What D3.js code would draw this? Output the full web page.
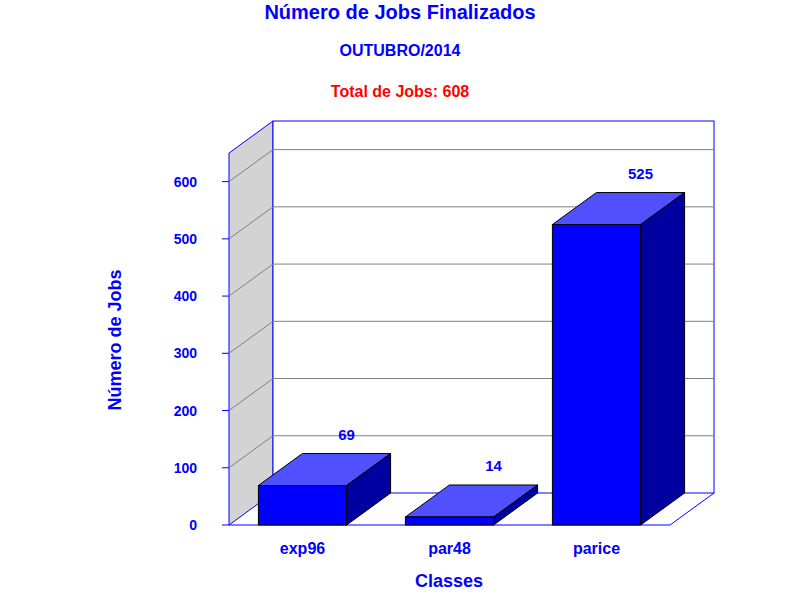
<!DOCTYPE html>
<html><head><meta charset="utf-8">
<script src="https://cdn.jsdelivr.net/npm/d3@7"></script>
<style>body{margin:0;background:#fff}text{font-family:"Liberation Sans",Arial,sans-serif;font-weight:bold}</style>
</head><body><svg id="c" width="800" height="600"></svg>
<script>
var classes = ["exp96", "par48", "parice"];
var jobs = [69, 14, 525];
var yTicks = [0, 100, 200, 300, 400, 500, 600];

var svg = d3.select("#c");
var x0 = 229, x1 = 670, yBase = 525, dx = 44, dy = -32;
var y = d3.scaleLinear().domain([0, 650]).range([yBase, yBase - 372]);
var x = d3.scaleBand().domain(classes).range([x0, x1]).paddingInner(0.4).paddingOuter(0.2);

// left wall
svg.append("polygon")
    .attr("points", [[x0, y(0)], [x0 + dx, y(0) + dy], [x0 + dx, y(650) + dy], [x0, y(650)]].join(" "))
    .attr("fill", "#d3d3d3").attr("stroke", "#0000ff");
// back wall
svg.append("rect").attr("x", x0 + dx).attr("y", y(650) + dy).attr("width", x1 - x0).attr("height", y(0) - y(650))
    .attr("fill", "#fff").attr("stroke", "#0000ff");
yTicks.slice(1).forEach(function (v) {
    svg.append("line").attr("x1", x0 + dx).attr("x2", x1 + dx).attr("y1", y(v) + dy).attr("y2", y(v) + dy).attr("stroke", "#808080");
    svg.append("line").attr("x1", x0).attr("x2", x0 + dx).attr("y1", y(v)).attr("y2", y(v) + dy).attr("stroke", "#808080");
});
// floor
svg.append("polyline")
    .attr("points", [[x0, yBase], [x1, yBase], [x1 + dx, yBase + dy]].join(" "))
    .attr("fill", "none").attr("stroke", "#0000ff");

// y axis ticks
yTicks.forEach(function (v) {
    svg.append("line").attr("x1", x0 - 7).attr("x2", x0).attr("y1", y(v)).attr("y2", y(v)).attr("stroke", "#0000ff");
    svg.append("text").attr("x", 197).attr("y", y(v) + 5).attr("text-anchor", "end")
        .attr("font-size", 14).attr("fill", "#0000ff").text(v);
});

// bars
classes.forEach(function (c, i) {
    var bx = x(c), bw = x.bandwidth(), top = y(jobs[i]);
    svg.append("polygon").attr("points", [[bx, top], [bx + dx, top + dy], [bx + bw + dx, top + dy], [bx + bw, top]].join(" "))
        .attr("fill", "#5050ff").attr("stroke", "#000");
    svg.append("polygon").attr("points", [[bx + bw, top], [bx + bw + dx, top + dy], [bx + bw + dx, yBase + dy], [bx + bw, yBase]].join(" "))
        .attr("fill", "#0000a0").attr("stroke", "#000");
    svg.append("rect").attr("x", bx).attr("y", top).attr("width", bw).attr("height", yBase - top)
        .attr("fill", "#0000ff").attr("stroke", "#000");
    svg.append("text").attr("x", bx + bw / 2 + dx).attr("y", top + dy - 14).attr("text-anchor", "middle")
        .attr("font-size", 15).attr("fill", "#0000ff").text(jobs[i]);
    svg.append("text").attr("x", bx + bw / 2).attr("y", 554).attr("text-anchor", "middle")
        .attr("font-size", 16).attr("fill", "#0000ff").text(c);
});

// titles
svg.append("text").attr("x", 400).attr("y", 19).attr("text-anchor", "middle").attr("font-size", 20).attr("fill", "#0000ff").text("Número de Jobs Finalizados");
svg.append("text").attr("x", 400).attr("y", 56).attr("text-anchor", "middle").attr("font-size", 16).attr("fill", "#0000ff").text("OUTUBRO/2014");
svg.append("text").attr("x", 400).attr("y", 97).attr("text-anchor", "middle").attr("font-size", 16).attr("fill", "#ff0000").text("Total de Jobs: 608");
svg.append("text").attr("x", 449).attr("y", 587).attr("text-anchor", "middle").attr("font-size", 18).attr("fill", "#0000ff").text("Classes");
svg.append("text").attr("transform", "translate(121,340) rotate(-90)").attr("text-anchor", "middle").attr("font-size", 18).attr("fill", "#0000ff").text("Número de Jobs");
</script></body></html>
